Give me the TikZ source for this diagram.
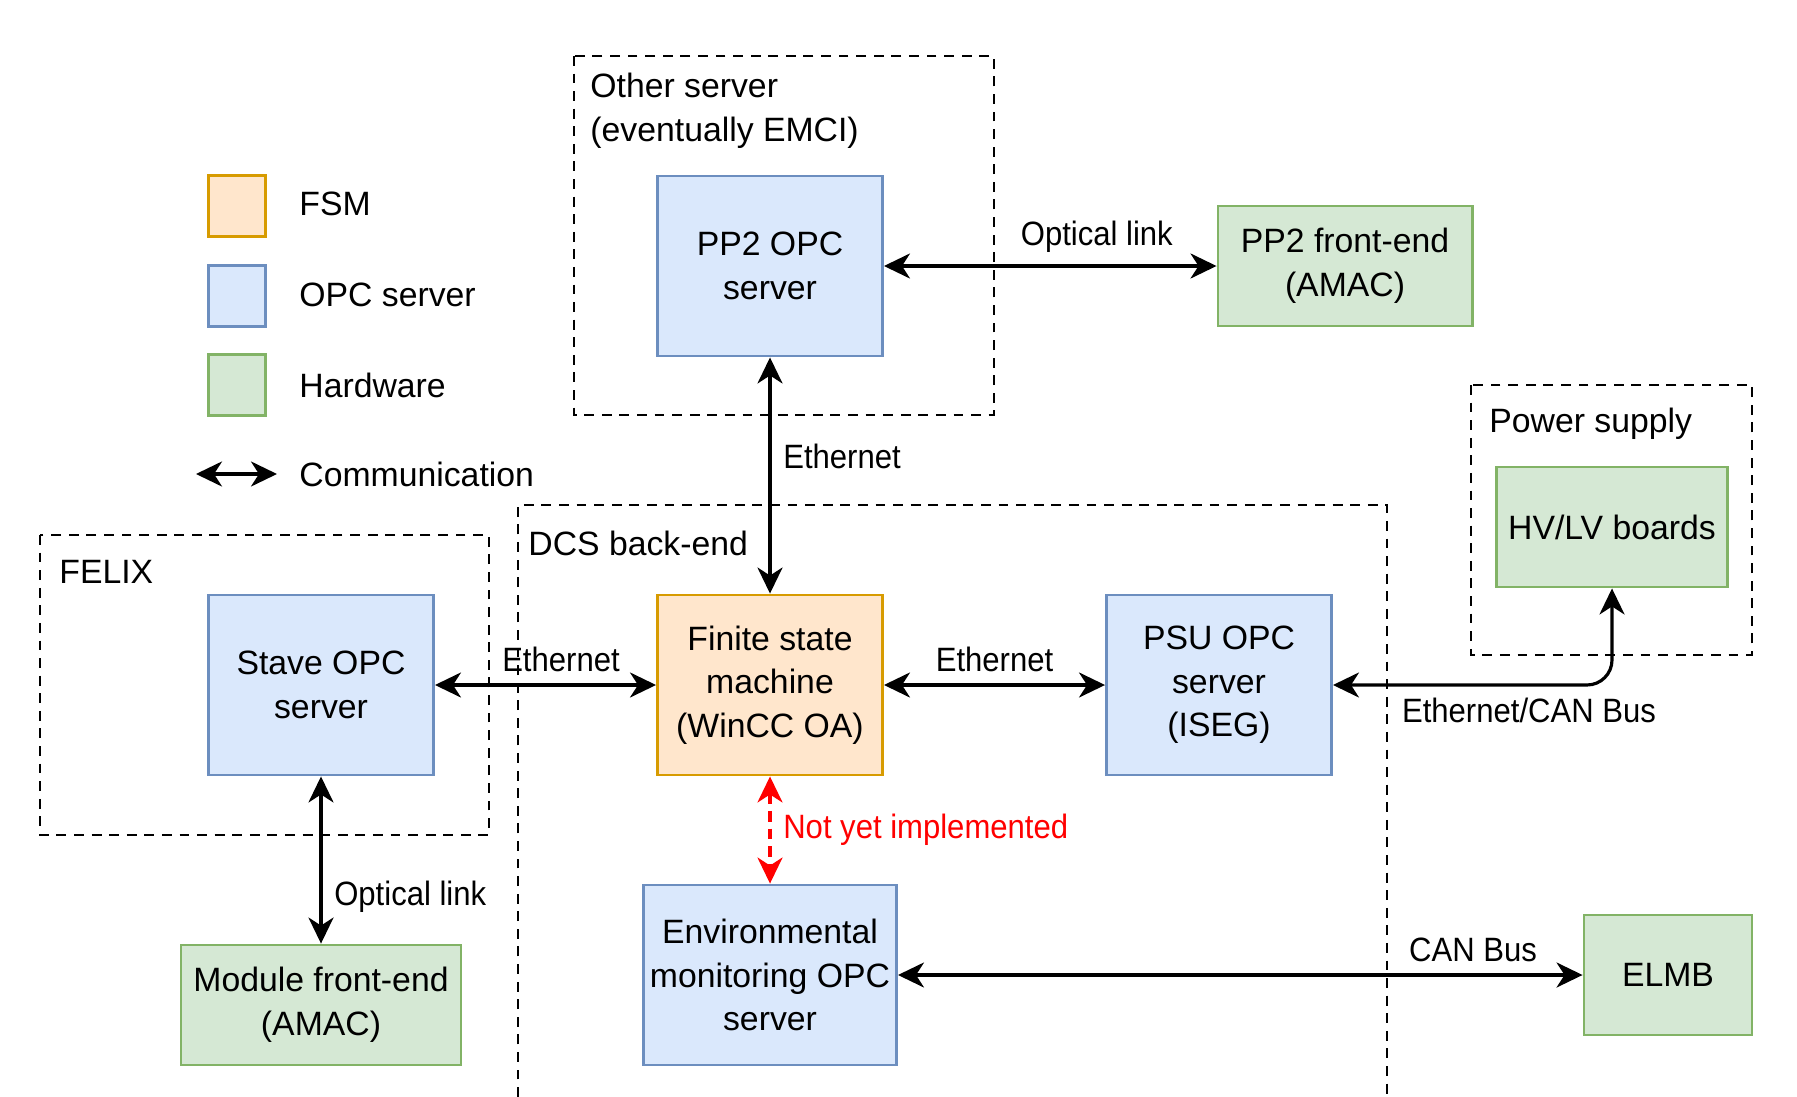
\documentclass[tikz,border=0pt]{standalone}
\usepackage{fontspec}
\setmainfont{Liberation Sans}
\usetikzlibrary{arrows.meta}
\definecolor{fsmfill}{HTML}{FFE6CC}
\definecolor{fsmline}{HTML}{D79B00}
\definecolor{opcfill}{HTML}{DAE8FC}
\definecolor{opcline}{HTML}{6C8EBF}
\definecolor{hwfill}{HTML}{D5E8D4}
\definecolor{hwline}{HTML}{82B366}

\begin{document}
\begin{tikzpicture}[x=0.01cm, y=-0.01cm, font=\fontsize{9.6}{12.4}\selectfont,
  >={Stealth[length=2.6mm,width=2.5mm,inset=0.8mm]},
  link/.style={<->, line width=0.9pt},
  lbl/.style={font=\fontsize{9.6}{12.4}\selectfont\addfontfeatures{FakeStretch=0.92}},
  grpbox/.style={dash pattern=on 2.8pt off 2.2pt, line width=0.8pt},
  blk/.style={draw, line width=0.8pt, align=center, minimum width=2.25cm, minimum height=1.8cm},
  fsmbox/.style={blk, draw=fsmline, fill=fsmfill},
  opcbox/.style={blk, draw=opcline, fill=opcfill},
  hwbox/.style={blk, draw=hwline, fill=hwfill, minimum height=1.2cm},
  key/.style={draw, line width=0.8pt, minimum width=0.57cm, minimum height=0.61cm}]
\useasboundingbox (0,0) rectangle (1797,1097);

% dashed groups
\draw[grpbox] (574,56) rectangle (994,415);
\draw[grpbox] (40,535) rectangle (489,835);
\draw[grpbox] (1471,385) rectangle (1752,655);
\draw[grpbox] (518,1097) -- (518,505) -- (1387,505) -- (1387,1097);
\node[anchor=west, align=left] (othlbl) at (578,111) {Other server\\(eventually EMCI)};
\node[anchor=west] (dcslbl) at (516,543) {DCS back-end};
\node[anchor=west] (felixlbl) at (47,572) {FELIX};
\node[anchor=west] (pslbl) at (1477,424) {Power supply};

% legend
\node[key, draw=fsmline, fill=fsmfill] (kfsm) at (237,206) {};
\node[key, draw=opcline, fill=opcfill] (kopc) at (237,296) {};
\node[key, draw=hwline, fill=hwfill] (khw) at (237,385) {};
\node[anchor=west] (tfsm) at (287,204) {FSM};
\node[anchor=west] (topc) at (287,295) {OPC server};
\node[anchor=west] (thw) at (287,385) {Hardware};
\coordinate (ka) at (196,474);
\coordinate (kb) at (277,474);
\draw[link] (ka) -- (kb);
\node[anchor=west] (tcom) at (287,474) {Communication};

% blocks
\node[opcbox] (pp2) at (770,266) {PP2 OPC\\server};
\node[fsmbox] (fsm) at (770,685) {Finite state\\machine\\(WinCC OA)};
\node[opcbox] (stave) at (321,685) {Stave OPC\\server};
\node[opcbox] (psu) at (1219,685) {PSU OPC\\server\\(ISEG)};
\node[opcbox, minimum width=2.53cm, inner xsep=1pt] (env) at (770,975) {Environmental\\monitoring OPC\\server};
\node[hwbox, minimum width=2.8cm] (mod) at (321,1005) {Module front-end\\(AMAC)};
\node[hwbox, minimum width=2.54cm] (pp2fe) at (1345,266) {PP2 front-end\\(AMAC)};
\node[hwbox, minimum width=2.26cm] (hvlv) at (1612,527) {HV/LV boards};
\node[hwbox, minimum width=1.68cm] (elmb) at (1668,975) {ELMB};

% links
\draw[link] (pp2.east) -- node[lbl, pos=0.64, above] {Optical link} (pp2fe.west);
\draw[link] (pp2.south) -- node[lbl, pos=0.42, right] {Ethernet} (fsm.north);
\draw[link] (stave.east) -- node[lbl, pos=0.57, above] {Ethernet} (fsm.west);
\draw[link] (fsm.east) -- node[lbl, above] {Ethernet} (psu.west);
\draw[link, rounded corners=0.25cm] (psu.east) -| node[lbl, pos=0.1, below right] {Ethernet/CAN Bus} (hvlv.south);
\draw[link, red, dash pattern=on 3pt off 2pt] (fsm.south) -- node[lbl, right, text=red] {Not yet implemented} (env.north);
\draw[link] (stave.south) -- node[lbl, pos=0.72, right] {Optical link} (mod.north);
\draw[link] (env.east) -- node[lbl, pos=0.84, above] {CAN Bus} (elmb.west);
\end{tikzpicture}
\end{document}
